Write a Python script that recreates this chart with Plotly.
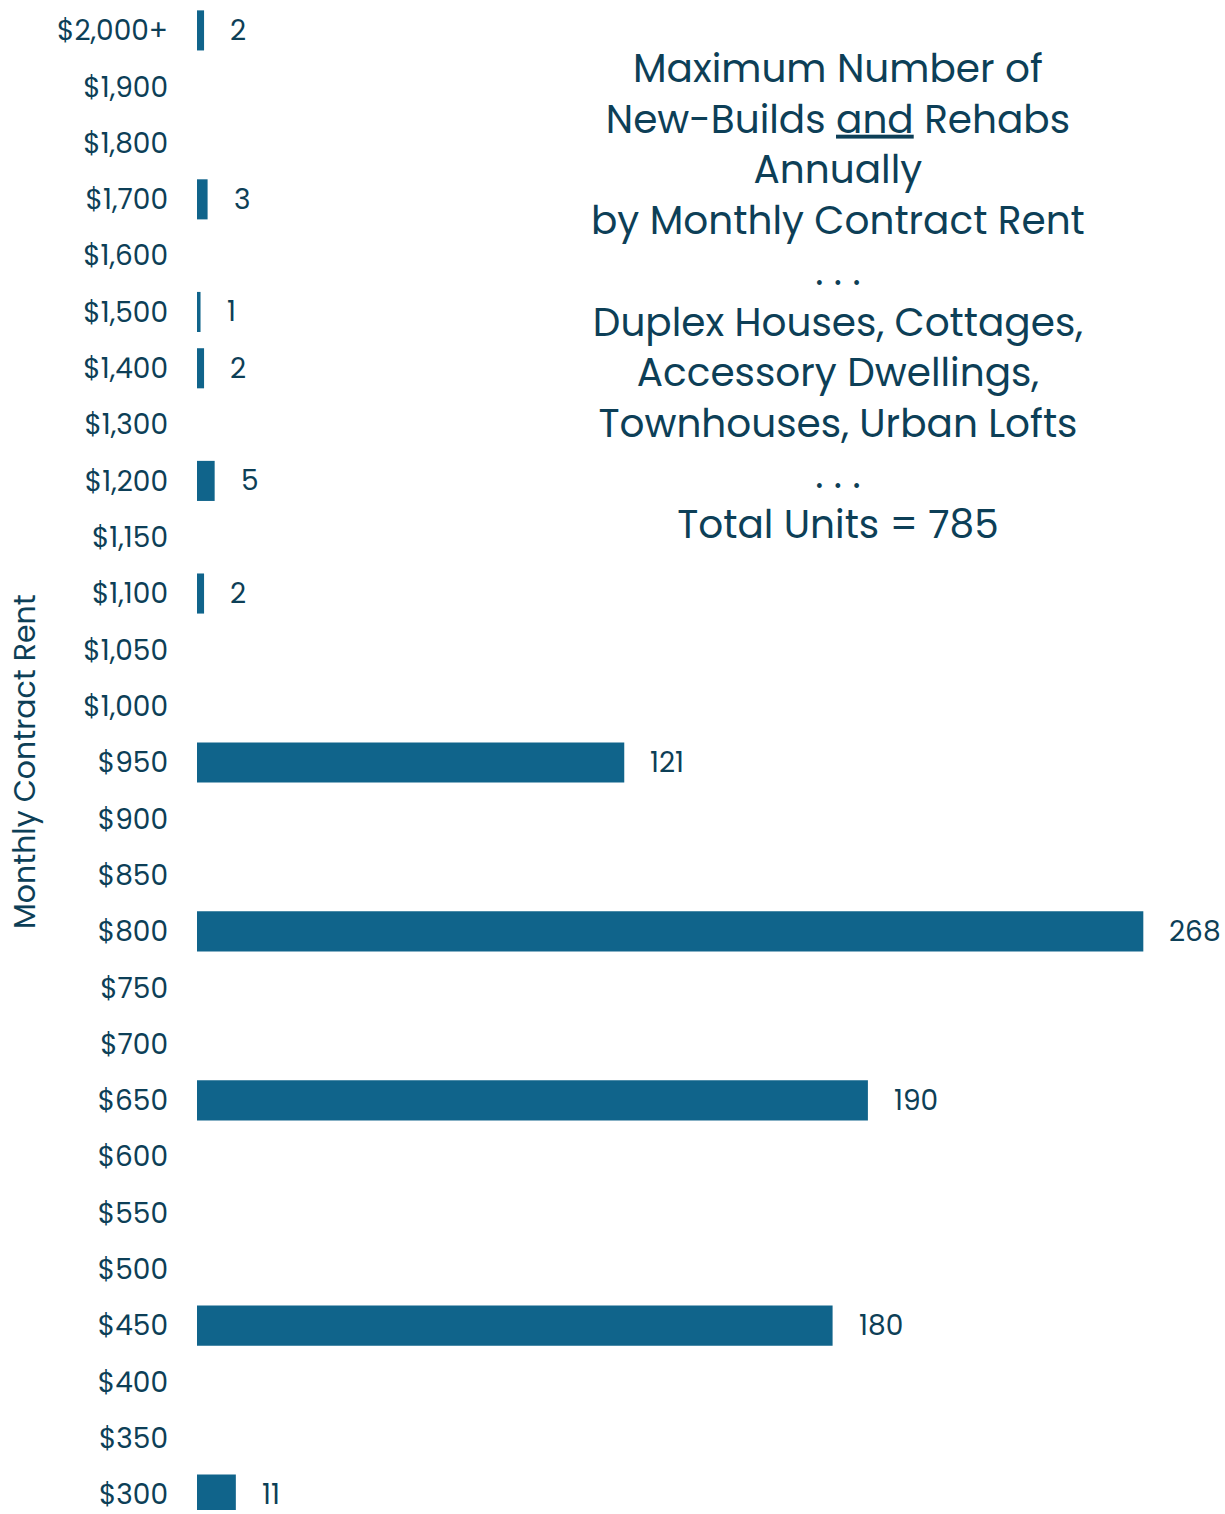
import plotly.graph_objects as go

categories = ["$300", "$350", "$400", "$450", "$500", "$550", "$600", "$650", "$700",
              "$750", "$800", "$850", "$900", "$950", "$1,000", "$1,050", "$1,100",
              "$1,150", "$1,200", "$1,300", "$1,400", "$1,500", "$1,600", "$1,700",
              "$1,800", "$1,900", "$2,000+"]
units = [11, 0, 0, 180, 0, 0, 0, 190, 0,
         0, 268, 0, 0, 121, 0, 0, 2,
         0, 5, 0, 2, 1, 0, 3,
         0, 0, 2]

TEXT = "#0d3f57"
BAR = "#10648b"
FONT = "Poppins, 'Open Sans', sans-serif"

title_lines = [
    "Maximum Number of",
    "New-Builds <u>and</u> Rehabs",
    "Annually",
    "by Monthly Contract Rent",
    ". . .",
    "Duplex Houses, Cottages,",
    "Accessory Dwellings,",
    "Townhouses, Urban Lofts",
    ". . .",
    "Total Units = 785",
]

W, H = 1225, 1514
ML, MR = 197, 4
idx = list(range(len(categories)))
plot_w = W - ML - MR

fig = go.Figure(go.Bar(
    x=units, y=idx, orientation="h",
    marker=dict(color=BAR, line=dict(width=0)),
    hoverinfo="skip",
))

annotations = []
for i, v in zip(idx, units):
    if v > 0:
        annotations.append(dict(
            x=v, y=i, xref="x", yref="y", text=str(v), showarrow=False,
            xanchor="left", yanchor="middle", xshift=24,
            font=dict(family=FONT, size=28, color=TEXT),
        ))

annotations.append(dict(
    x=(838 - ML) / plot_w, y=1 - 297 / H,
    xref="paper", yref="paper",
    text="<br>".join(title_lines), showarrow=False,
    xanchor="center", yanchor="middle", align="center",
    font=dict(family=FONT, size=39, color=TEXT),
))

annotations.append(dict(
    x=(25 - ML) / plot_w, y=1 - 764 / H, xref="paper", yref="paper",
    text="Monthly Contract Rent", showarrow=False, textangle=-90,
    xanchor="center", yanchor="middle",
    font=dict(family=FONT, size=30, color=TEXT),
))

fig.update_layout(
    width=W, height=H,
    margin=dict(l=ML, r=MR, t=0, b=0, pad=0),
    paper_bgcolor="white", plot_bgcolor="white",
    bargap=0.288, showlegend=False,
    xaxis=dict(range=[0, 290], visible=False, fixedrange=True),
    yaxis=dict(
        range=[-0.275, 26.54], tickmode="array", tickvals=idx, ticktext=categories,
        showgrid=False, zeroline=False, showline=False, ticks="",
        ticklabelstandoff=28, ticklabeloverflow="allow", fixedrange=True,
        tickfont=dict(family=FONT, size=28, color=TEXT),
    ),
    annotations=annotations,
)

fig.write_html("out.html", config={"displayModeBar": False},
               post_script="document.body.style.margin='0';")
